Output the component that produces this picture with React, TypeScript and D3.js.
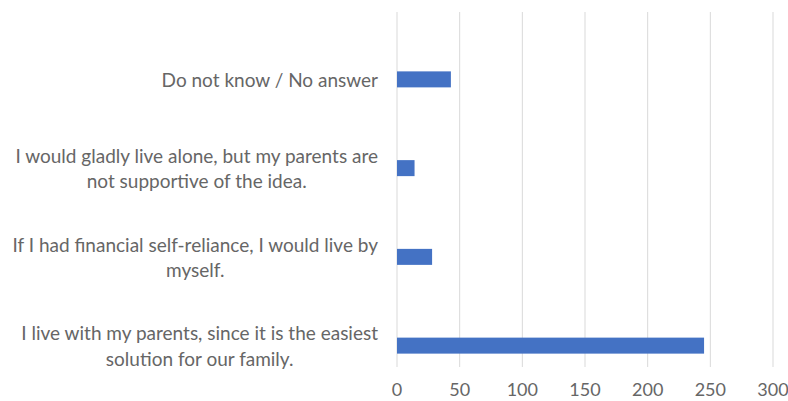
import React, { useEffect, useRef } from "react";
import * as d3 from "d3";

const categories = [
  "Do not know / No answer",
  "I would gladly live alone, but my parents are\nnot supportive of the idea.",
  "If I had financial self-reliance, I would live by\nmyself.",
  "I live with my parents, since it is the easiest\nsolution for our family.",
];
const values = [43, 14, 28, 245];
const xTicks = [0, 50, 100, 150, 200, 250, 300];

const W = 788;
const H = 401;
const FONT = "Lato, 'Open Sans', sans-serif";
const TEXT = "#666666";

export default function App() {
  const ref = useRef<SVGSVGElement>(null);

  useEffect(() => {
    const svg = d3.select(ref.current);
    svg.selectAll("*").remove();

    const x = d3.scaleLinear().domain([0, 300]).range([397, 773]);
    const y = d3.scalePoint<string>().domain(categories).range([35, 390]).padding(0.5);
    const barH = 16;

    // gridlines
    svg
      .append("g")
      .selectAll("line")
      .data(xTicks)
      .join("line")
      .attr("x1", (d) => x(d))
      .attr("x2", (d) => x(d))
      .attr("y1", 12)
      .attr("y2", 367)
      .attr("stroke", "#d9d9d9")
      .attr("stroke-width", 1);

    // bars
    svg
      .append("g")
      .selectAll("rect")
      .data(categories)
      .join("rect")
      .attr("x", x(0))
      .attr("y", (d) => (y(d) as number) - barH / 2)
      .attr("width", (d, i) => x(values[i]) - x(0))
      .attr("height", barH)
      .attr("fill", "#4472C4");

    // x tick labels
    svg
      .append("g")
      .selectAll("text")
      .data(xTicks)
      .join("text")
      .attr("x", (d) => x(d))
      .attr("y", 396)
      .attr("text-anchor", "middle")
      .attr("font-family", FONT)
      .attr("font-size", 18)
      .attr("fill", TEXT)
      .text((d) => String(d));

    // category labels
    const rightEdge = 378;
    const lineH = 25.5;
    const g = svg.append("g");
    categories.forEach((c) => {
      const lines = c.split("\n");
      const cy = y(c) as number;
      const texts = lines.map((ln, i) =>
        g
          .append("text")
          .attr("font-family", FONT)
          .attr("font-size", 19)
          .attr("fill", TEXT)
          .attr("text-anchor", "middle")
          .attr("dominant-baseline", "central")
          .attr("y", cy + (i - (lines.length - 1) / 2) * lineH)
          .text(ln)
      );
      const maxW = d3.max(texts, (t) => (t.node() as SVGTextElement).getComputedTextLength()) || 0;
      texts.forEach((t) => t.attr("x", rightEdge - maxW / 2));
    });
  }, []);

  return (
    <svg
      ref={ref}
      width={W}
      height={H}
      style={{ display: "block", position: "absolute", left: 0, top: 0, background: "#fff" }}
    />
  );
}
